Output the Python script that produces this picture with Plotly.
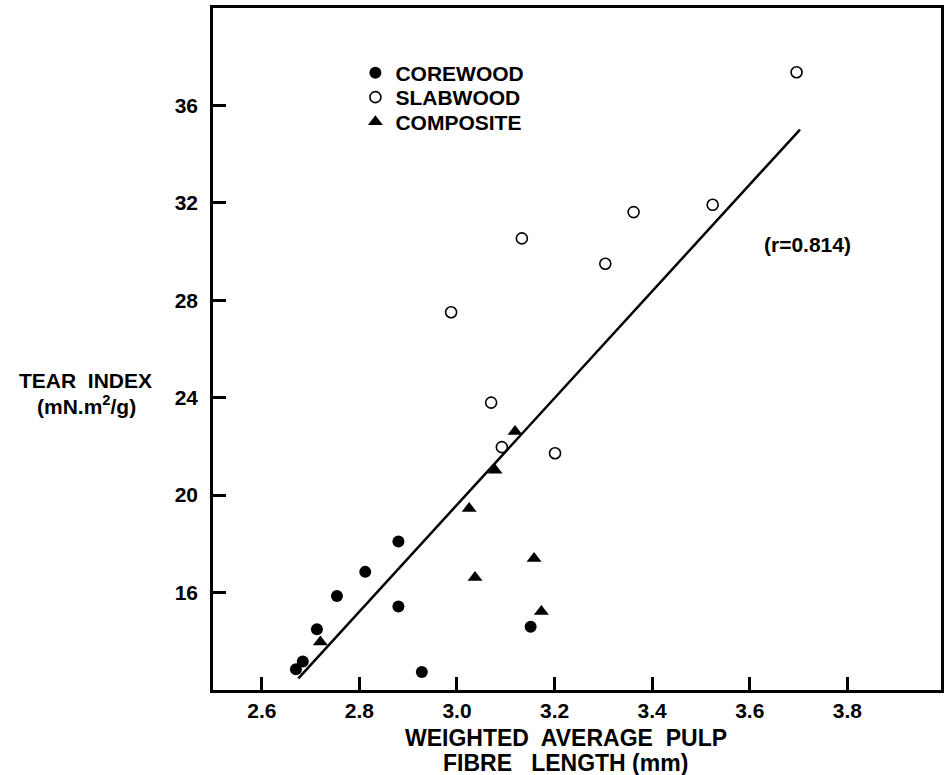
import plotly.graph_objects as go

# Data
core_x = [2.670, 2.684, 2.713, 2.754, 2.812, 2.880, 2.880, 2.928, 3.151]
core_y = [12.85, 13.17, 14.49, 15.86, 16.85, 18.10, 15.43, 12.74, 14.60]

slab_x = [2.988, 3.070, 3.092, 3.133, 3.201, 3.304, 3.362, 3.524, 3.696]
slab_y = [27.51, 23.80, 21.97, 30.54, 21.72, 29.50, 31.62, 31.92, 37.36]

comp_x = [2.720, 3.025, 3.037, 3.078, 3.119, 3.158, 3.173]
comp_y = [13.97, 19.45, 16.62, 21.02, 22.61, 17.40, 15.22]

fit_x = [2.675, 3.703]
fit_y = [12.48, 35.01]

x_ticks = [2.6, 2.8, 3.0, 3.2, 3.4, 3.6, 3.8]
x_tick_labels = ["2.6", "2.8", "3.0", "3.2", "3.4", "3.6", "3.8"]
y_ticks = [16, 20, 24, 28, 32, 36]
y_tick_labels = ["16", "20", "24", "28", "32", "36"]

FONT = "Liberation Sans, Arial, Helvetica, sans-serif"

W, H = 947, 775
ml, mr, mt, mb = 213, 3, 8, 85
pw, ph = W - ml - mr, H - mt - mb

fig = go.Figure()
fig.add_trace(go.Scatter(
    x=fit_x, y=fit_y, mode="lines", line=dict(color="black", width=2.5),
    showlegend=False, hoverinfo="skip"))
fig.add_trace(go.Scatter(
    x=core_x, y=core_y, mode="markers", name="COREWOOD", legend="legend",
    marker=dict(symbol="circle", size=12, color="black")))
fig.add_trace(go.Scatter(
    x=slab_x, y=slab_y, mode="markers", name="SLABWOOD", legend="legend2",
    marker=dict(symbol="circle-open", size=11, color="black", line=dict(width=1.6))))
fig.add_trace(go.Scatter(
    x=comp_x, y=comp_y, mode="markers", name="COMPOSITE", legend="legend3",
    marker=dict(symbol="triangle-up", size=13, color="black")))

axis_common = dict(
    showline=True, linecolor="black", linewidth=2.5, mirror=True,
    ticks="inside", ticklen=13, tickwidth=2.5, tickcolor="black",
    showgrid=False, zeroline=False,
    tickfont=dict(family=FONT, size=21, color="black", weight="bold"),
)

fig.update_xaxes(range=[2.5, 3.992], tickvals=x_ticks, ticktext=x_tick_labels,
                 ticklabelstandoff=0, **axis_common)
fig.update_yaxes(range=[12, 40], tickvals=y_ticks, ticktext=y_tick_labels,
                 ticklabelstandoff=8, **axis_common)

annotations = [
    dict(text="WEIGHTED  AVERAGE  PULP", x=567, y=738, fs=23),
    dict(text="FIBRE   LENGTH (mm)", x=567, y=763, fs=23),
    dict(text="TEAR  INDEX", x=85, y=380, fs=21),
    dict(text="(mN.m<sup>2</sup>/g)", x=86, y=405, fs=21),
]
for a in annotations:
    fig.add_annotation(
        text=a["text"], xref="paper", yref="paper",
        x=(a["x"] - ml) / pw, y=1 - (a["y"] - mt) / ph,
        xanchor="center", yanchor="middle", showarrow=False,
        font=dict(family=FONT, size=a["fs"], color="black", weight="bold"))

fig.add_annotation(
    text="(r=0.814)", x=3.719, y=30.29, xref="x", yref="y",
    xanchor="center", yanchor="middle", showarrow=False,
    font=dict(family=FONT, size=21, color="black", weight="bold"))

legend_font = dict(family=FONT, size=21, color="black", weight="bold")


def leg(center_y):
    return dict(
        x=(356 - ml) / pw, y=1 - (center_y - mt) / ph,
        xanchor="left", yanchor="middle",
        bgcolor="rgba(0,0,0,0)", borderwidth=0, itemwidth=30,
        font=legend_font)


fig.update_layout(
    width=W, height=H,
    margin=dict(l=ml, r=mr, t=mt, b=mb),
    plot_bgcolor="white", paper_bgcolor="white",
    showlegend=True,
    legend=leg(73), legend2=leg(97.5), legend3=leg(122),
)

fig.write_html("out.html")
